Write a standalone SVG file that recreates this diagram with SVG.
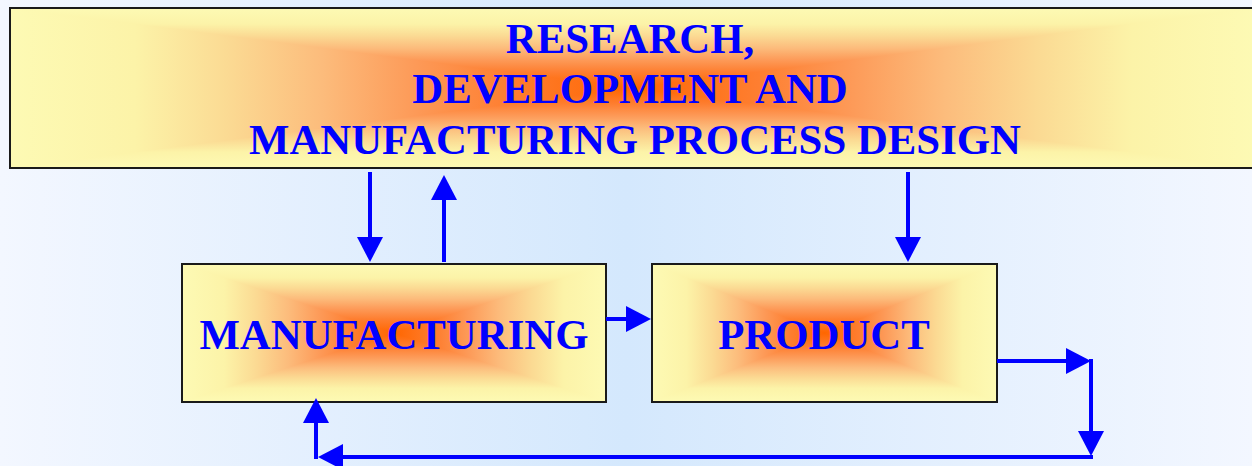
<svg xmlns="http://www.w3.org/2000/svg" width="1252" height="466" viewBox="0 0 1252 466">
  <defs>
    <linearGradient id="bg" x1="0" y1="0" x2="1" y2="0">
      <stop offset="0" stop-color="#F3F7FF"/>
      <stop offset="0.5" stop-color="#D4E8FD"/>
      <stop offset="1" stop-color="#F3F7FF"/>
    </linearGradient>
    <linearGradient id="gh" x1="0" y1="0" x2="1" y2="0">
      <stop offset="0" stop-color="#FDFAB4"/>
      <stop offset="0.1" stop-color="#FCF3A8"/>
      <stop offset="0.175" stop-color="#FBDA93"/>
      <stop offset="0.25" stop-color="#FCBC7C"/>
      <stop offset="0.325" stop-color="#FD9A58"/>
      <stop offset="0.4" stop-color="#FE7E30"/>
      <stop offset="0.5" stop-color="#FF6600"/>
      <stop offset="0.6" stop-color="#FE7E30"/>
      <stop offset="0.675" stop-color="#FD9A58"/>
      <stop offset="0.75" stop-color="#FCBC7C"/>
      <stop offset="0.825" stop-color="#FBDA93"/>
      <stop offset="0.9" stop-color="#FCF3A8"/>
      <stop offset="1" stop-color="#FDFAB4"/>
    </linearGradient>
    <linearGradient id="gv" href="#gh" x1="0" y1="0" x2="0" y2="1"/>
    <marker id="ah" markerUnits="userSpaceOnUse" markerWidth="26" markerHeight="26" viewBox="0 -13 25 26" refX="1" refY="0" orient="auto">
      <path d="M0,-13 L25,0 L0,13 z" fill="#0000FF"/>
    </marker>
    <style>
      .frame { fill: none; stroke: #1A1A1A; stroke-width: 2; }
      .fh { fill: url(#gh); }
      .fv { fill: url(#gv); }
      .t { font-family: "Liberation Serif", "Times New Roman", serif; font-weight: bold; font-size: 42.8px; fill: #0000FF; text-anchor: middle; }
      .c { fill: none; stroke: #0000FF; stroke-width: 4; marker-end: url(#ah); }
      .p { fill: none; stroke: #0000FF; stroke-width: 4; }
    </style>
  </defs>
  <rect x="0" y="0" width="1252" height="466" fill="url(#bg)"/>

  <g id="rd">
    <rect class="fh" x="10" y="8" width="1246" height="160"/>
    <path class="fv" d="M10,8 L1256,8 L10,168 L1256,168 Z"/>
    <rect class="frame" x="10" y="8" width="1246" height="160"/>
    <text class="t" x="630" y="53">RESEARCH,</text>
    <text class="t" x="630" y="103">DEVELOPMENT AND</text>
    <text class="t" x="635" y="154">MANUFACTURING PROCESS DESIGN</text>
  </g>

  <g id="manufacturing">
    <rect class="fh" x="182" y="264" width="424" height="138"/>
    <path class="fv" d="M182,264 L606,264 L182,402 L606,402 Z"/>
    <rect class="frame" x="182" y="264" width="424" height="138"/>
    <text class="t" x="394" y="349">MANUFACTURING</text>
  </g>

  <g id="product">
    <rect class="fh" x="652" y="264" width="345" height="138"/>
    <path class="fv" d="M652,264 L997,264 L652,402 L997,402 Z"/>
    <rect class="frame" x="652" y="264" width="345" height="138"/>
    <text class="t" x="824" y="349">PRODUCT</text>
  </g>

  <g id="connectors">
    <path class="c" d="M370,172 L370,238"/>
    <path class="c" d="M444,262 L444,199"/>
    <path class="c" d="M908,172 L908,238"/>
    <path class="c" d="M606,319 L627,319"/>
    <path class="c" d="M997,361 L1067,361"/>
    <path class="p" d="M1091,359 L1091,361"/>
    <path class="c" d="M1091,359 L1091,432"/>
    <path class="c" d="M1093,457 L342,457"/>
    <path class="c" d="M316,459 L316,422"/>
  </g>
</svg>
